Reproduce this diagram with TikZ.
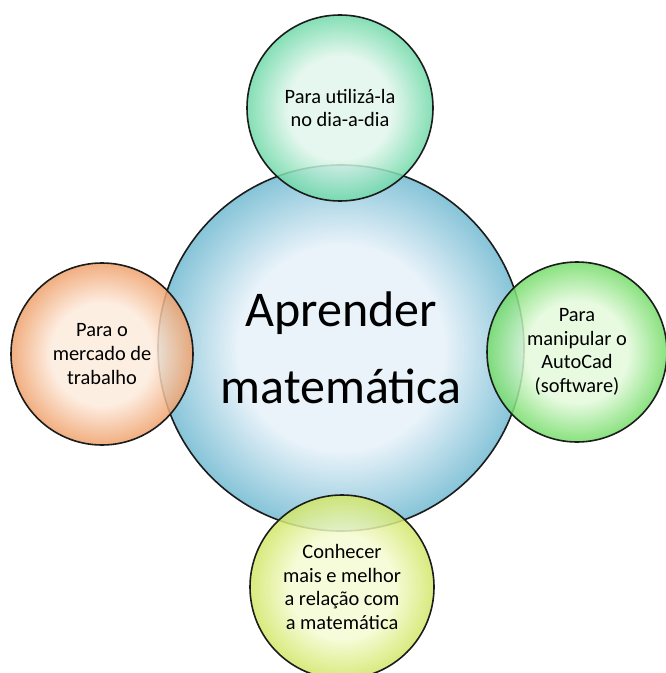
\documentclass[tikz,border=0pt]{standalone}
\usepackage{fontspec}
\setmainfont{Carlito}
\usetikzlibrary{positioning}

\definecolor{hubin}{HTML}{EAF3FA}
\definecolor{hubout}{HTML}{86C4D8}
\definecolor{dailyin}{HTML}{E0F6EB}
\definecolor{dailyout}{HTML}{6FD9A8}
\definecolor{jobin}{HTML}{FDEBDD}
\definecolor{jobout}{HTML}{EFA06A}
\definecolor{cadin}{HTML}{E4FADC}
\definecolor{cadout}{HTML}{74DC68}
\definecolor{knowin}{HTML}{F5FBD2}
\definecolor{knowout}{HTML}{D2E666}
\definecolor{rim}{HTML}{1C1C1C}

% pale middle, darker rim
\newcommand\bubbleshade[3]{\pgfdeclareradialshading{#1}{\pgfpoint{0bp}{0bp}}{color(0bp)=(#2); color(14bp)=(#2); color(25bp)=(#3); color(50bp)=(#3)}}
\bubbleshade{hubshade}{hubin}{hubout}
\bubbleshade{dailyshade}{dailyin}{dailyout}
\bubbleshade{jobshade}{jobin}{jobout}
\bubbleshade{cadshade}{cadin}{cadout}
\bubbleshade{knowshade}{knowin}{knowout}

\begin{document}
\begin{tikzpicture}[
    x=0.75pt, y=-0.75pt,
    hub/.style={circle, draw=rim, line width=1.2pt, align=center, inner sep=0pt, minimum size=274.5pt, font=\fontsize{37.5}{58}\selectfont},
    topic/.style={circle, draw=rim, line width=1.2pt, fill opacity=0.85, text opacity=1, align=center, inner sep=0pt, font=\fontsize{15.3}{17.8}\selectfont}
]
\useasboundingbox (0,0) rectangle (665,673);
\node[hub, shading=hubshade] (centro) at (341,348) {Aprender\\matemática};
\node[topic, minimum size=139.5pt, shading=dailyshade] (dia) at (340,108) {Para utilizá-la\\no dia-a-dia};
\node[topic, minimum size=136.5pt, shading=jobshade] (mercado) at (102,354) {Para o\\mercado de\\trabalho};
\node[topic, minimum size=135pt, shading=cadshade] (autocad) at (577,352) {Para\\manipular o\\AutoCad\\(software)};
\node[topic, minimum size=138pt, shading=knowshade] (relacao) at (342,587) {Conhecer\\mais e melhor\\a relação com\\a matemática};
\end{tikzpicture}
\end{document}
